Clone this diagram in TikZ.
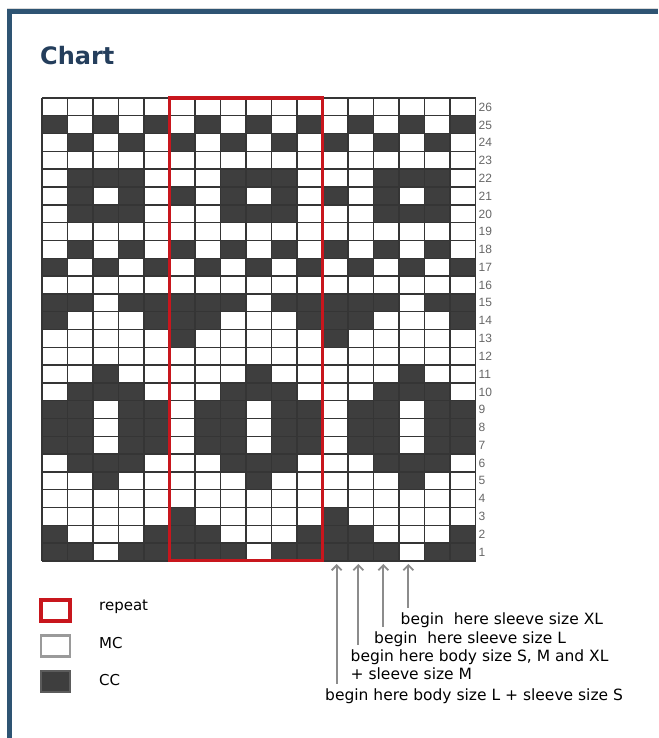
\documentclass[tikz,border=0pt]{standalone}
\usepackage{fontspec}
\setmainfont{DejaVu Sans}
\newfontfamily\numfont{Liberation Sans}
\usetikzlibrary{arrows.meta,positioning}
\definecolor{frameblue}{HTML}{2E5473}
\definecolor{navy}{HTML}{243E5C}
\definecolor{repeatred}{HTML}{C8161D}
\definecolor{ccgray}{HTML}{3E3E3E}
\definecolor{gridgray}{HTML}{353535}
\definecolor{mcborder}{HTML}{9A9A9A}
\definecolor{numgray}{HTML}{666666}
\definecolor{arrowgray}{HTML}{8C8C8C}
\tikzset{
  title/.style={font=\bfseries\fontsize{24}{28}\selectfont,text=navy,anchor=base west,inner sep=0pt},
  body/.style={font=\fontsize{15.5}{18}\selectfont,text=black,anchor=base west,inner xsep=0pt,inner ysep=4.5pt},
  legtext/.style={font=\fontsize{15}{18}\selectfont,text=black,anchor=base west,inner sep=0pt},
  rownum/.style={font=\numfont\fontsize{12}{13}\selectfont,text=numgray,anchor=west,inner sep=0pt},
  cc/.style={fill=ccgray},
  gridline/.style={draw=gridgray,line width=1.4pt},
  repeatbox/.style={draw=repeatred,line width=3.2pt},
  legbox/.style={minimum width=29pt,minimum height=21pt,inner sep=0pt},
  arr/.style={-{Straight Barb[length=5pt,width=10pt]},draw=arrowgray,line width=1.8pt}
}
\begin{document}
\begin{tikzpicture}[x=1pt,y=-1pt]
\path[use as bounding box] (0,0) rectangle (658,738);
\draw[black!15,line width=1pt] (7,9)--(658,9);
\draw[frameblue,line width=5pt] (9.5,738)--(9.5,12)--(658,12);
\node[title] (title) at (40,64.5) {Chart};
% chart: one repeat of 6 stitches per row, 1 = CC
\foreach \r/\pat in {26/{0,0,0,0,0,0},25/{0,1,0,1,0,1},24/{1,0,1,0,1,0},23/{0,0,0,0,0,0},
  22/{0,0,1,1,1,0},21/{1,0,1,0,1,0},20/{0,0,1,1,1,0},19/{0,0,0,0,0,0},18/{1,0,1,0,1,0},
  17/{0,1,0,1,0,1},16/{0,0,0,0,0,0},15/{1,1,1,0,1,1},14/{1,1,0,0,0,1},13/{1,0,0,0,0,0},
  12/{0,0,0,0,0,0},11/{0,0,0,1,0,0},10/{0,0,1,1,1,0},9/{0,1,1,0,1,1},8/{0,1,1,0,1,1},
  7/{0,1,1,0,1,1},6/{0,0,1,1,1,0},5/{0,0,0,1,0,0},4/{0,0,0,0,0,0},3/{1,0,0,0,0,0},
  2/{1,1,0,0,0,1},1/{1,1,1,0,1,1}}{
 \foreach \c in {1,...,17}{
  \pgfmathtruncatemacro\q{mod(\c,6)}
  \pgfmathtruncatemacro\v{{\pat}[\q]}
  \ifnum\v=1
   \fill[cc] ({42+(\c-1)*25.5},{561-\r*17.8}) rectangle ({42+\c*25.5},{561-(\r-1)*17.8});
  \fi
 }
 \node[rownum] (row\r) at (478.5,{561-(\r-0.5)*17.8}) {\r};
}
\foreach \c in {0,...,17} \draw[gridline] ({42+\c*25.5},98)--({42+\c*25.5},560.8);
\foreach \r in {0,...,26} \draw[gridline] (42,{98+\r*17.8})--(475.5,{98+\r*17.8});
\draw[repeatbox] (169.5,98)rectangle(322.5,560.8);
% key
\node[legbox,repeatbox,fill=white] (keyRepeat) at (55.5,610.5) {};
\node[legbox,draw=mcborder,line width=2.5pt,fill=white] (keyMC) at (55.5,646) {};
\node[legbox,draw=ccgray!85!white,line width=1.5pt,fill=ccgray] (keyCC) at (55.5,681.5) {};
\node[legtext] (txtRepeat) at (99,610) {repeat};
\node[legtext] (txtMC) at (99,648) {MC};
\node[legtext] (txtCC) at (99,685) {CC};
% where to begin
\coordinate (tipS) at (336.7,564);
\coordinate (tipM) at (358.3,564);
\coordinate (tipL) at (383.3,564);
\coordinate (tipXL) at (408.3,564);
\node[body] (lblXL) at (400.5,624) {begin\ \ here sleeve size XL};
\node[body] (lblL) at (374,643) {begin\ \ here sleeve size L};
\node[body] (lblM) at (350.5,661) {begin here body size S, M and XL};
\node[body] (lblMb) at (350.5,679) {+ sleeve size M};
\node[body] (lblS) at (325,700) {begin here body size L + sleeve size S};
\draw[arr] (lblXL.north -| tipXL)--(tipXL);
\draw[arr] (lblL.north -| tipL)--(tipL);
\draw[arr] (lblM.north -| tipM)--(tipM);
\draw[arr] (lblS.north -| tipS)--(tipS);
\end{tikzpicture}
\end{document}
